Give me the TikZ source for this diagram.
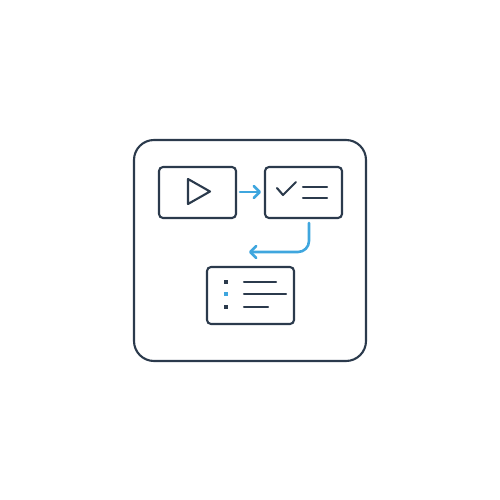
\documentclass[tikz,border=0pt]{standalone}
\usetikzlibrary{arrows.meta}
\definecolor{navy}{HTML}{2B3A4C}
\definecolor{sky}{HTML}{3FA6DE}
\begin{document}
\begin{tikzpicture}[x=1pt,y=-1pt,
  dk/.style={draw=navy,line width=2.1pt,line cap=round,line join=round},
  bl/.style={draw=sky,line width=2.6pt,line cap=round,line join=round,
    -{Straight Barb[length=6pt,width=12pt,line cap=round,line join=round]}},
  card/.style={dk,rounded corners=4pt}]
\useasboundingbox (0,0) rectangle (500,500);
\draw[dk,rounded corners=20pt] (134,140) rectangle (366,361);
\node[card,minimum width=77pt,minimum height=51pt,inner sep=0pt] (video) at (197.5,192.5) {};
\node[card,minimum width=77pt,minimum height=51pt,inner sep=0pt] (check) at (303.5,192.5) {};
\node[card,minimum width=87pt,minimum height=57pt,inner sep=0pt] (list) at (250.5,295.5) {};
% play triangle
\draw[dk] (188,179) -- (210,191.5) -- (188,204) -- cycle;
% check mark and lines
\draw[dk] (277,188) -- (283,195) -- (296,182);
\draw[dk] (303,187) -- (327,187);
\draw[dk] (303,198) -- (327,198);
% list
\fill[navy] (224,280) rectangle (228,284);
\fill[sky] (224,292) rectangle (228,296);
\fill[navy] (224,305) rectangle (228,309);
\draw[dk] (244,282) -- (276,282);
\draw[dk] (244,294) -- (286,294);
\draw[dk] (244,307) -- (268,307);
% arrows
\coordinate (a1s) at (240,192);
\coordinate (a1e) at (261,192);
\draw[bl] (a1s) -- (a1e);
\coordinate (a2s) at (309,223);
\coordinate (a2e) at (249,252);
\draw[bl,rounded corners=11pt] (a2s) -- (309,252) -- (a2e);
\end{tikzpicture}
\end{document}
